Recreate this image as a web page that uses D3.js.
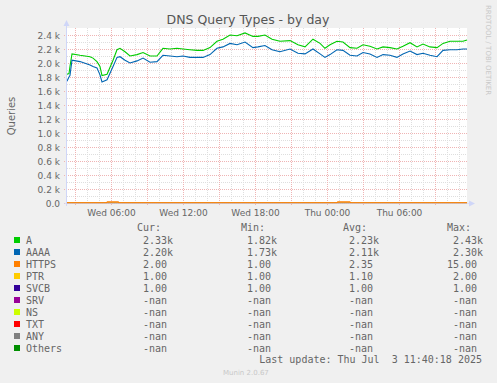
<!DOCTYPE html>
<html><head><meta charset="utf-8">
<script src="https://cdn.jsdelivr.net/npm/d3@7"></script>
<style>body{margin:0;background:#f0f0f0;}svg{display:block;}</style>
</head><body>
<script>
// ---- data ----
const hours = [2.33,2.50,2.58,2.75,3.42,4.25,4.50,4.83,5.08,5.25,5.67,6.17,6.50,6.75,7.17,7.58,8.17,8.67,9.25,9.83,10.33,10.92,11.50,12.00,12.58,13.17,13.67,14.25,14.83,15.33,15.92,16.50,17.17,17.83,18.25,18.83,19.42,20.08,20.92,21.58,22.17,22.83,23.42,23.83,24.25,24.83,25.33,25.92,26.50,27.00,27.58,28.17,28.67,29.25,29.83,30.33,30.92,31.50,32.00,32.58,33.17,33.67,34.25,34.83,35.33,35.67];
const seriesA = [1840,1850,1950,2130,2110,2090,2070,2020,1950,1820,1840,2040,2190,2210,2160,2100,2120,2150,2100,2100,2210,2200,2210,2200,2190,2180,2180,2220,2310,2340,2400,2390,2430,2380,2380,2400,2340,2310,2320,2260,2230,2340,2280,2210,2260,2310,2300,2220,2210,2260,2240,2200,2230,2220,2200,2240,2290,2230,2270,2230,2220,2280,2310,2310,2310,2330];
const seriesAAAA = [1740,1800,1820,2040,2020,1970,1950,1930,1830,1730,1760,1950,2080,2090,2040,2000,2030,2070,2010,2020,2110,2100,2090,2100,2080,2080,2080,2120,2210,2230,2280,2260,2300,2220,2230,2250,2190,2160,2200,2140,2130,2200,2130,2080,2120,2190,2180,2110,2100,2150,2130,2080,2120,2110,2080,2130,2170,2120,2140,2110,2090,2180,2190,2190,2200,2200];
const smallHours = [2.33,5.6,5.7,6.6,6.7,24.8,24.9,25.9,26.0,35.67];
const seriesHTTPS = [2,2,15,15,2,2,15,15,2,2];
const seriesPTR = [1,1,1,1,1,1,1,1,1,1];
const seriesSVCB = [1,1,1,1,1,1,1,1,1,1];
const yTicks = [0,200,400,600,800,1000,1200,1400,1600,1800,2000,2200,2400];
const xTickHours = [6,12,18,24,30];
const legendNames = ["A","AAAA","HTTPS","PTR","SVCB","SRV","NS","TXT","ANY","Others"];
const legendColors = ["#00cc00","#0066b3","#ff8000","#ffcc00","#330099","#990099","#ccff00","#ff0000","#808080","#008f00"];
const curVals = [["2.33","k"],["2.20","k"],["2.00",""],["1.00",""],["1.00",""],["-nan",""],["-nan",""],["-nan",""],["-nan",""],["-nan",""]];
const minVals = [["1.82","k"],["1.73","k"],["1.00",""],["1.00",""],["1.00",""],["-nan",""],["-nan",""],["-nan",""],["-nan",""],["-nan",""]];
const avgVals = [["2.23","k"],["2.11","k"],["2.35",""],["1.10",""],["1.00",""],["-nan",""],["-nan",""],["-nan",""],["-nan",""],["-nan",""]];
const maxVals = [["2.43","k"],["2.30","k"],["15.00",""],["2.00",""],["1.00",""],["-nan",""],["-nan",""],["-nan",""],["-nan",""],["-nan",""]];

const W = 497, H = 383;
const base = new Date(2025,6,2,0,0,0);
const toDate = h => new Date(base.getTime() + h*3600000);
const svg = d3.select("body").append("svg").attr("width",W).attr("height",H);
svg.append("rect").attr("width",W).attr("height",H).attr("fill","#f0f0f0");

const x = d3.scaleTime().domain([toDate(2+20/60), toDate(35+40/60)]).range([67,467]);
const y = d3.scaleLinear().domain([0,2500]).range([203,28]);
const fontCol = "#666";

// canvas
svg.append("rect").attr("x",67).attr("y",28).attr("width",400).attr("height",175).attr("fill","#fff");

// grids
const g = svg.append("g");
const hourTicks = d3.range(3,36).map(toDate);
g.selectAll("line.vmin").data(hourTicks).join("line")
  .attr("x1",d=>x(d)+0.5).attr("x2",d=>x(d)+0.5).attr("y1",28).attr("y2",203)
  .attr("stroke","#dedede").attr("stroke-dasharray","1,1");
const minorY = d3.range(100,2500,200);
g.selectAll("line.hmin").data(minorY).join("line")
  .attr("x1",67).attr("x2",467).attr("y1",d=>Math.round(y(d))+0.5).attr("y2",d=>Math.round(y(d))+0.5)
  .attr("stroke","#dedede").attr("stroke-dasharray","1,1");
const majorX = d3.range(3,36,3).map(toDate);
g.selectAll("line.vmaj").data(majorX).join("line")
  .attr("x1",d=>x(d)+0.5).attr("x2",d=>x(d)+0.5).attr("y1",28).attr("y2",206)
  .attr("stroke","#efb4b4").attr("stroke-dasharray","1,1");
g.selectAll("line.hmaj").data(yTicks).join("line")
  .attr("x1",64).attr("x2",467).attr("y1",d=>Math.round(y(d))+0.5).attr("y2",d=>Math.round(y(d))+0.5)
  .attr("stroke","#efb4b4").attr("stroke-dasharray","1,1");

// y labels
svg.selectAll("text.yl").data(yTicks).join("text")
  .attr("x",60).attr("y",d=>Math.round(y(d))+3.5).attr("text-anchor","end")
  .attr("font-family","DejaVu Sans").attr("font-size",9).attr("fill",fontCol)
  .text(d=> d===0 ? "0.0" : (d/1000).toFixed(1)+" k");
// x labels
const fmt = d3.timeFormat("%a %H:%M");
svg.selectAll("text.xl").data(xTickHours.map(toDate)).join("text")
  .attr("x",d=>x(d)+0.5).attr("y",215.5).attr("text-anchor","middle")
  .attr("font-family","DejaVu Sans").attr("font-size",9).attr("fill",fontCol)
  .text(d=>fmt(d));

// lines
const line = (vals, hs) => d3.line().x((d,i)=>x(toDate(hs[i]))).y(d=>y(d))(vals);
const plotG = svg.append("g");
plotG.append("path").attr("d",line(seriesSVCB,smallHours)).attr("fill","none").attr("stroke",legendColors[4]).attr("stroke-width",1);
plotG.append("path").attr("d",line(seriesPTR,smallHours)).attr("fill","none").attr("stroke",legendColors[3]).attr("stroke-width",1);
plotG.append("path").attr("d",line(seriesHTTPS,smallHours)).attr("fill","none").attr("stroke",legendColors[2]).attr("stroke-width",1.2);
plotG.append("path").attr("d",line(seriesA,hours)).attr("fill","none").attr("stroke",legendColors[0]).attr("stroke-width",1.1);
plotG.append("path").attr("d",line(seriesAAAA,hours)).attr("fill","none").attr("stroke",legendColors[1]).attr("stroke-width",1.1);

// axes
const axCol = "#cfd6f8";
svg.append("line").attr("x1",66.5).attr("x2",66.5).attr("y1",206).attr("y2",24).attr("stroke",axCol);
svg.append("line").attr("x1",64).attr("x2",470).attr("y1",203.5).attr("y2",203.5).attr("stroke",axCol).attr("stroke-opacity",0.6);
svg.append("path").attr("d","M63.5,26 L66.5,20 L69.5,26 Z").attr("fill",axCol);
svg.append("path").attr("d","M469,200.5 L475,203.5 L469,206.5 Z").attr("fill",axCol);

// title & labels
svg.append("text").attr("x",248).attr("y",24).attr("text-anchor","middle")
  .attr("font-family","DejaVu Sans").attr("font-size",12.5).attr("fill","#555")
  .text("DNS Query Types - by day");
svg.append("text").attr("transform","translate(15,116) rotate(-90)").attr("text-anchor","middle")
  .attr("font-family","DejaVu Sans").attr("font-size",10).attr("fill",fontCol).text("Queries");
svg.append("text").attr("transform","translate(486,5) rotate(90)").attr("text-anchor","start")
  .attr("font-family","DejaVu Sans").attr("font-size",7).attr("fill","#c8c8c8").text("RRDTOOL / TOBI OETIKER");

// legend
const mono = "DejaVu Sans Mono", lfs = 10;
const hdr = [["Cur:",137],["Min:",241],["Avg:",343],["Max:",447]];
svg.selectAll("text.hdr").data(hdr).join("text")
  .attr("x",d=>d[1]).attr("y",230.5).attr("font-family",mono).attr("font-size",lfs).attr("fill",fontCol).text(d=>d[0]);
const rowY = i => 243.5 + 12*i;
const lg = svg.append("g");
legendNames.forEach((n,i)=>{
  lg.append("rect").attr("x",14).attr("y",rowY(i)-6.5).attr("width",6).attr("height",6).attr("fill",legendColors[i]);
  lg.append("text").attr("x",26).attr("y",rowY(i)).attr("font-family",mono).attr("font-size",lfs).attr("fill",fontCol).text(n);
});
const cols = [[curVals,167],[minVals,271],[avgVals,373],[maxVals,477]];
cols.forEach(([vals,xe])=>{
  vals.forEach((v,i)=>{
    lg.append("text").attr("x",xe).attr("y",rowY(i)).attr("text-anchor","end")
      .attr("font-family",mono).attr("font-size",lfs).attr("fill",fontCol).text(v[0]);
    if(v[1]) lg.append("text").attr("x",xe).attr("y",rowY(i))
      .attr("font-family",mono).attr("font-size",lfs).attr("fill",fontCol).text(v[1]);
  });
});
svg.append("text").attr("x",482).attr("y",362.5).attr("text-anchor","end")
  .attr("font-family",mono).attr("font-size",lfs).attr("fill",fontCol).attr("xml:space","preserve")
  .style("white-space","pre").text("Last update: Thu Jul  3 11:40:18 2025");
svg.append("text").attr("x",223).attr("y",374.5).attr("font-family","DejaVu Sans").attr("font-size",7)
  .attr("fill","#c8c8c8").text("Munin 2.0.67");
</script>
</body></html>
